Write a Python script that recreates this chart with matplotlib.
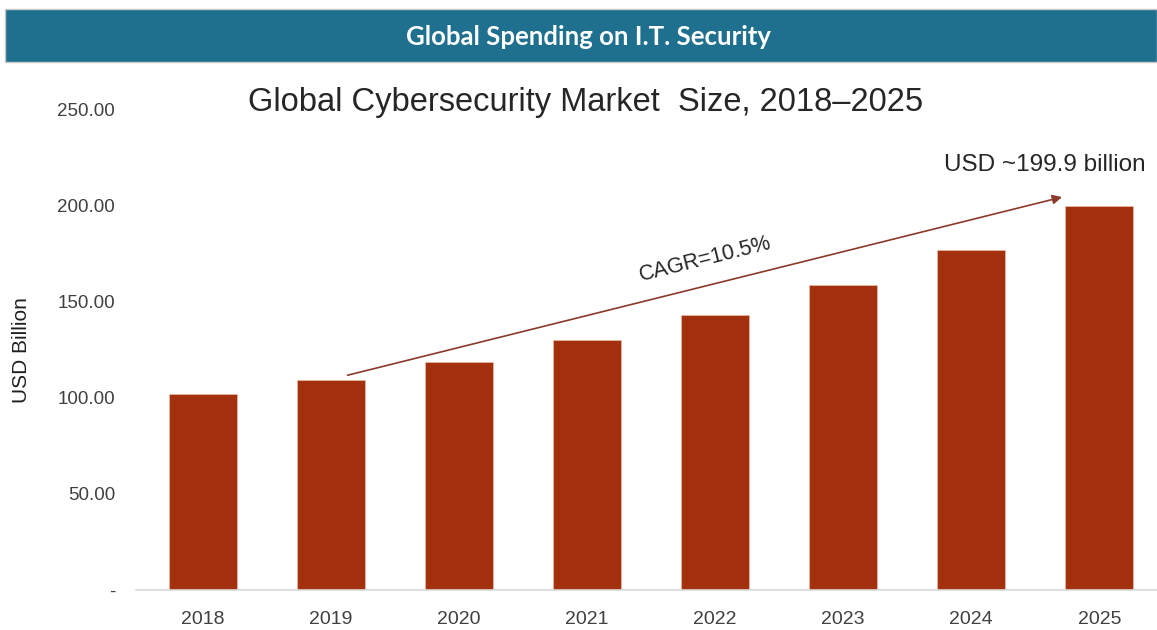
import matplotlib
matplotlib.use("Agg")
import matplotlib.pyplot as plt
from matplotlib.patches import Rectangle

years = ["2018", "2019", "2020", "2021", "2022", "2023", "2024", "2025"]
values = [102.1, 109.4, 118.8, 130.2, 143.2, 158.9, 177.1, 199.9]
yticks = [0, 50, 100, 150, 200, 250]
ytick_labels = ["-", "50.00", "100.00", "150.00", "200.00", "250.00"]

W, H = 1157, 630
fig = plt.figure(figsize=(W / 100, H / 100), dpi=100)
fig.patch.set_facecolor("white")

# header band
fig.patches.append(Rectangle((5 / W, 1 - 62 / H), 1 - 5 / W, 53 / H,
                             transform=fig.transFigure, facecolor="#1F6F8F",
                             edgecolor="#C8C8C8", linewidth=1))
fig.text(589 / W, 1 - 37 / H, "Global Spending on I.T. Security", color="white",
         fontsize=18.5, fontweight="bold", family="Lato", ha="center", va="center")

ax = fig.add_axes([136 / W, 40 / H, (W - 136) / W, 480 / H])
x = list(range(len(years)))
ax.bar(x, values, width=0.53, color="#A3300F", edgecolor="#F5C9A8", linewidth=0.4)
ax.set_xlim(-0.52, 7.45)
ax.set_ylim(0, 250)
ax.set_xticks(x)
ax.set_xticklabels(years, family="Liberation Sans", fontsize=14, color="#404040")
ax.set_yticks(yticks)
ax.set_yticklabels(ytick_labels, family="Liberation Sans", fontsize=13.5, color="#404040")
ax.tick_params(axis="both", length=0)
ax.tick_params(axis="y", pad=15)
ax.tick_params(axis="x", pad=15)
for s in ["top", "right", "left"]:
    ax.spines[s].set_visible(False)
ax.spines["bottom"].set_color("#D9D9D9")
ax.spines["bottom"].set_linewidth(1.2)

fig.text(22 / W, 1 - 350 / H, "USD Billion", rotation=90, ha="center", va="center",
         family="Liberation Sans", fontsize=15, color="#202020")

fig.text(586 / W, 1 - 103 / H, "Global Cybersecurity Market  Size, 2018\u20132025",
         ha="center", va="center", family="Liberation Sans", fontsize=23.5, color="#262626")

ax.annotate("", xy=(6.73, 205), xytext=(1.11, 111.5),
            arrowprops=dict(arrowstyle="-|>", color="#8B3A2A", lw=1.2,
                            mutation_scale=14))
ax.text(3.92, 172, "CAGR=10.5%", rotation=14, ha="center", va="center",
        family="Liberation Sans", fontsize=15.5, color="#262626")
fig.text(1045 / W, 1 - 165 / H, "USD ~199.9 billion", ha="center", va="center",
         family="Liberation Sans", fontsize=17.5, color="#262626")

fig.savefig("out.png", dpi=100, facecolor="white")
